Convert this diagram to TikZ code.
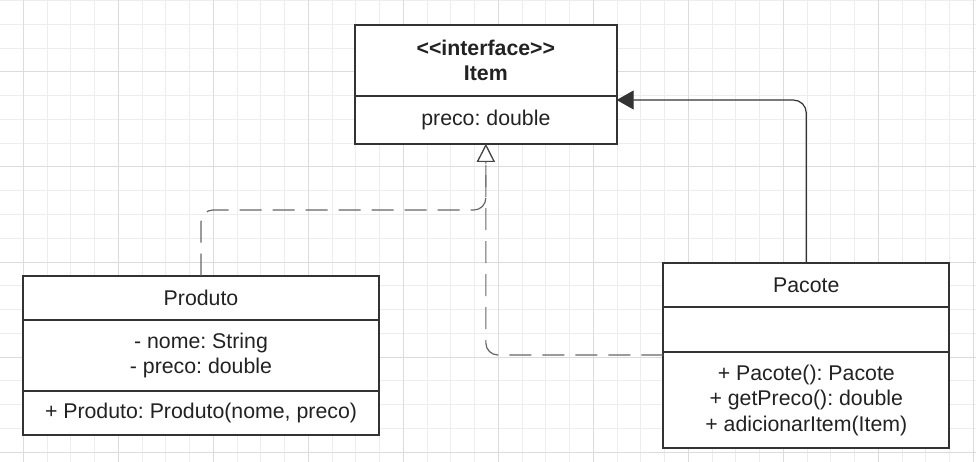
\documentclass[tikz,border=0pt]{standalone}
\usepackage{fontspec}
\setmainfont{Liberation Sans}
\usetikzlibrary{arrows.meta}
\definecolor{gridminor}{HTML}{EDEDED}
\definecolor{gridmajor}{HTML}{DCDCDC}
\definecolor{boxline}{HTML}{333333}
\definecolor{txt}{HTML}{222222}
\definecolor{dashline}{HTML}{666666}
\frenchspacing
\tikzset{
  compart/.style={draw=boxline, line width=2pt, fill=white, inner sep=0pt, outer sep=0pt,
    anchor=north west, align=center, text=txt,
    font=\fontsize{21.3}{25.5}\selectfont},
  dashconn/.style={draw=dashline, line width=1.2pt, dash pattern=on 22pt off 11pt,
    rounded corners=12pt, -{Triangle[open, length=18pt, width=18pt, line width=1.2pt, color=boxline!90, fill=white]}},
  solidconn/.style={draw=boxline, line width=1.2pt, rounded corners=13pt,
    -{Triangle[length=17pt, width=19pt, color=boxline]}}
}
\begin{document}
\begin{tikzpicture}[x=1pt,y=-1pt]
\useasboundingbox (0,0) rectangle (976,462);
\fill[white] (0,0) rectangle (976,462);
% grid
\foreach \k in {-1,...,40} {
  \pgfmathsetmacro\xx{23.3+23.75*\k}
  \draw[gridminor, line width=1pt] (\xx,0) -- (\xx,462);
}
\foreach \k in {-3,...,16} {
  \pgfmathsetmacro\yy{72+23.75*\k}
  \draw[gridminor, line width=1pt] (0,\yy) -- (976,\yy);
}
\foreach \k in {0,...,10} {
  \pgfmathsetmacro\xx{23.3+95*\k}
  \draw[gridmajor, line width=1pt] (\xx,0) -- (\xx,462);
}
\foreach \k in {-1,...,4} {
  \pgfmathsetmacro\yy{72+95*\k}
  \draw[gridmajor, line width=1pt] (0,\yy) -- (976,\yy);
}
% Item interface
\node[compart, minimum width=261.7pt, minimum height=70.7pt, font=\fontsize{21.3}{25.7}\selectfont\bfseries] (itemhead) at (355,25)
  {<\kern0pt<interface>\kern0pt>\\Item};
\node[compart, minimum width=261.7pt, minimum height=48.3pt] (itemattr) at (355,95.7) {preco: double};
% Produto
\node[compart, minimum width=356.6pt, minimum height=44.3pt] (produtohead) at (22.7,275.7) {Produto};
\node[compart, minimum width=356.6pt, minimum height=70.7pt] (produtoattr) at (22.7,320) {- nome: String\\- preco: double};
\node[compart, minimum width=356.6pt, minimum height=44.3pt] (produtometh) at (22.7,390.7) {+ Produto: Produto(nome, preco)};
% Pacote
\node[compart, minimum width=286pt, minimum height=44.6pt] (pacotehead) at (663.3,262.7) {Pacote};
\node[compart, minimum width=286pt, minimum height=45pt] (pacoteattr) at (663.3,307.3) {};
\node[compart, minimum width=286pt, minimum height=96pt] (pacotemeth) at (663.3,352.3) {+ Pacote(): Pacote\\+ getPreco(): double\\+ adicionarItem(Item)};
% connectors
\draw[dashconn] (produtohead.north) |- (itemattr.south |- 0,210) -- (itemattr.south);
\draw[dashconn] (pacotemeth.west |- 0,355) -| (itemattr.south);
\draw[solidconn] (pacotehead.north) |- (itemattr.east |- 0,100);
\end{tikzpicture}
\end{document}
